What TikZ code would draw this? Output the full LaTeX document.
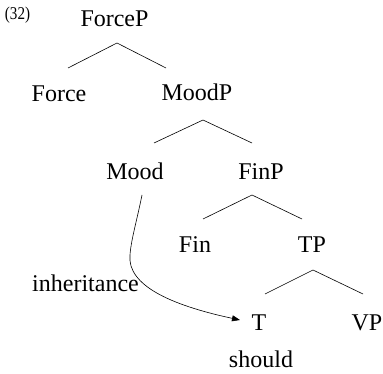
\documentclass[tikz,border=0pt]{standalone}
\usepackage{fontspec}
\setmainfont{Liberation Serif}
\usetikzlibrary{arrows.meta}
\begin{document}
\begin{tikzpicture}[x=1pt,y=-1pt,
  lbl/.style={inner sep=0pt,anchor=base,font=\fontsize{24}{28}\selectfont},
  branch/.style={line width=0.6pt},
  inh/.style={line width=0.6pt,-{Triangle[length=8pt,width=6pt]}}]
\useasboundingbox (0,0) rectangle (383,374);

% example number
\node[inner sep=0pt,anchor=base] (num) at (17.5,19.5)
  {\fontsize{18}{22}\selectfont\scalebox{0.84}[1]{(32)}};

% labels of the tree
\node[lbl] (ForceP) at (114.5,27) {ForceP};
\node[lbl] (Force)  at (59,102)   {Force};
\node[lbl] (MoodP)  at (197,101)  {MoodP};
\node[lbl] (Mood)   at (135,180)  {Mood};
\node[lbl] (FinP)   at (261,180)  {FinP};
\node[lbl] (Fin)    at (195,253)  {Fin};
\node[lbl] (TP)     at (312,253)  {TP};
\node[lbl] (T)      at (259,330)  {T};
\node[lbl] (VP)     at (367,330)  {VP};
\node[lbl] (should) at (261,367)  {should};
\node[lbl] (inh)    at (85.5,291) {inheritance};

% branch points
\coordinate (ForceP-b) at (117,43);
\coordinate (Force-t)  at (68,68);
\coordinate (MoodP-t)  at (166,68);
\coordinate (MoodP-b)  at (203,120);
\coordinate (Mood-t)   at (154,143);
\coordinate (FinP-t)   at (252,143);
\coordinate (FinP-b)   at (252,195);
\coordinate (Fin-t)    at (203,219);
\coordinate (TP-t)     at (302,219);
\coordinate (TP-b)     at (313,270);
\coordinate (T-t)      at (265,294);
\coordinate (VP-t)     at (363,294);

\draw[branch] (Force-t) -- (ForceP-b) -- (MoodP-t);
\draw[branch] (Mood-t) -- (MoodP-b) -- (FinP-t);
\draw[branch] (Fin-t) -- (FinP-b) -- (TP-t);
\draw[branch] (T-t) -- (TP-b) -- (VP-t);

% feature inheritance from Mood to T
\coordinate (inh-s) at (142,195);
\coordinate (inh-m) at (130,255);
\coordinate (inh-e) at (240,320);
\draw[inh] (inh-s) .. controls (137,220) and (131,240) .. (inh-m)
  .. controls (127,285) and (170,305) .. (inh-e);
\end{tikzpicture}
\end{document}
